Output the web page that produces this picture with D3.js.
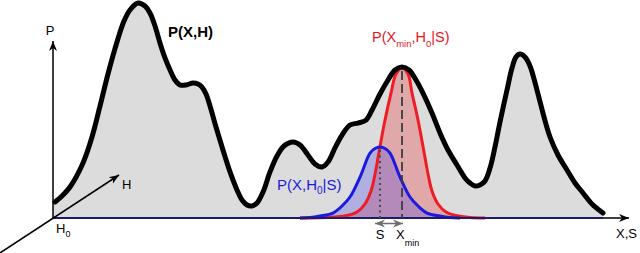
<!DOCTYPE html>
<html><head><meta charset="utf-8">
<script src="https://cdn.jsdelivr.net/npm/d3@7/dist/d3.min.js"></script>
<style>html,body{margin:0;padding:0;background:#fff;}svg{display:block;}</style>
</head><body><svg id="c" width="640" height="253"></svg>
<script>
// Landscape P(X,H): x in [0,100] along X,S axis, y in relative units (red peak = 100)
const landX = [0.35,1.56,2.95,5.2,6.76,8.15,9.53,11.09,12.31,13.34,14.73,15.94,16.81,17.68,18.54,19.41,20.28,21.14,22.01,23.05,24.26,25.13,25.82,26.52,27.21,28.25,29.46,30.68,31.89,32.76,33.62,34.49,35.36,36.4,37.61,38.82,40.03,41.59,42.81,44.19,45.41,46.62,47.66,48.87,50.09,51.47,52.86,54.25,55.29,56.67,58.06,59.27,60.49,61.7,62.91,64.12,65.68,67.07,68.46,70.02,71.4,72.27,73.14,74.0,74.87,75.74,76.6,77.47,78.68,79.55,80.24,80.94,81.8,82.67,83.88,85.1,86.14,87.52,89.08,90.47,91.85,93.41,95.32];
const landY = [10.7,14.7,20.7,36.7,54,74.7,96,117.3,131.3,138.7,143.3,141.3,136.7,128,116.7,106.7,98.7,92,88.7,88.7,90,89.3,87.3,82.7,74.7,60.7,45.3,30.7,18.7,12,8.7,8,10,17.3,30.7,41.3,48,50.7,48.7,42,36,34,37.3,46.7,55.3,62,63.3,65.3,72,82.7,92,98.7,100.7,98.7,92,83.3,70,56.7,45.3,35.3,26.7,23.3,21.3,22,24.7,33.3,47.3,64,85.3,100,107.3,109.3,107.3,101.3,85.3,67.3,54,42,32,23.3,16.7,9.3,3.3];
// P(Xmin,H0|S) (red)
const redX = [42.81,46.27,48.87,50.95,52.69,54.07,55.11,55.81,56.5,57.54,58.58,59.45,60.49,61.53,62.22,63.26,64.3,65.0,65.68,66.72,68.11,69.84,72.27,74.87];
const redY = [0,0.13,0.67,1.67,4,9.33,18,29.3,44,65.3,83.3,96,100,96,83.3,65.3,44,29.3,18,9.33,4,1.67,0.4,0];
// P(X,H0|S) (blue)
const blueX = [42.81,44.54,46.27,48.53,50.09,51.47,53.21,54.94,55.81,56.67,57.54,58.41,60.14,61.87,63.26,64.82,67.07,68.8,70.54];
const blueY = [0,0.3,1.3,3.3,8,14,27.3,43.3,46.3,47.3,46.3,43.3,27.3,14,8,3.3,1.3,0.3,0];
const labels = {P:"P", H:"H", H0:["H","0"], XS:"X,S", S:"S", Xmin:["X","min"], land:"P(X,H)"};

const svg = d3.select("#c");
const x = d3.scaleLinear().domain([0,100]).range([53,630]);
const y = d3.scaleLinear().domain([0,100]).range([218,68]);
const zip = (a,b)=>a.map((v,i)=>[v,b[i]]);
const land = zip(landX,landY), red = zip(redX,redY), blue = zip(blueX,blueY);

const defs = svg.append("defs");
function marker(id,color){
  defs.append("marker").attr("id",id).attr("viewBox","-10 -5 11 10").attr("refX",0).attr("refY",0)
   .attr("markerWidth",11).attr("markerHeight",10).attr("markerUnits","userSpaceOnUse").attr("orient","auto-start-reverse")
   .append("path").attr("d","M0,0 L-10,-4 L-7,0 L-10,4 Z").attr("fill",color);
}
marker("ab","#000"); marker("ag","#6e6e6e");

const crv = d3.curveCatmullRom.alpha(0.5);
const area = d3.area().x(d=>x(d[0])).y0(y(0)).y1(d=>y(d[1])).curve(crv);
const line = d3.line().x(d=>x(d[0])).y(d=>y(d[1])).curve(crv);

// gray landscape fill
svg.append("path").datum([[0,landY[0]],...land]).attr("d",area).attr("fill","#dcdcdc");
// red & blue fills
svg.append("path").datum(red).attr("d",area).attr("fill","rgba(232,60,60,0.32)");
svg.append("path").datum(blue).attr("d",area).attr("fill","rgba(60,60,235,0.27)");

// curves
svg.append("path").datum(red).attr("d",line).attr("fill","none").attr("stroke","#ee1c24").attr("stroke-width",3);
svg.append("path").datum(blue).attr("d",line).attr("fill","none").attr("stroke","#1a1ae0").attr("stroke-width",3);
svg.append("path").datum(land).attr("d",line).attr("fill","none").attr("stroke","#000").attr("stroke-width",5)
  .attr("stroke-linecap","round").attr("stroke-linejoin","round");

// axes
const x0 = x(0), yb = y(0);
svg.append("line").attr("x1",x0).attr("y1",yb).attr("x2",x(100)-1).attr("y2",yb)
  .attr("stroke","#000").attr("stroke-width",1.5).attr("marker-end","url(#ab)");
svg.append("line").attr("x1",x0).attr("y1",yb).attr("x2",x(landX[landX.length-1])).attr("y2",yb)
  .attr("stroke","#1c1c6e").attr("stroke-width",2.2);
svg.append("line").attr("x1",x0).attr("y1",yb).attr("x2",x0).attr("y2",41)
  .attr("stroke","#000").attr("stroke-width",1.5).attr("marker-end","url(#ab)");
svg.append("line").attr("x1",0).attr("y1",253).attr("x2",119).attr("y2",175)
  .attr("stroke","#000").attr("stroke-width",1.5).attr("marker-end","url(#ab)");

// guide lines at peaks
const ri = d3.maxIndex(redY), bi = d3.maxIndex(blueY);
svg.append("line").attr("x1",x(redX[ri])).attr("x2",x(redX[ri])).attr("y1",y(redY[ri])+3).attr("y2",yb)
  .attr("stroke","#3c3c3c").attr("stroke-width",1.8).attr("stroke-dasharray","9,4");
svg.append("line").attr("x1",x(blueX[bi])).attr("x2",x(blueX[bi])).attr("y1",y(blueY[bi])+3).attr("y2",yb)
  .attr("stroke","#4a4a4a").attr("stroke-width",2).attr("stroke-dasharray","2,3.5");
// S <-> Xmin arrow
svg.append("line").attr("x1",x(blueX[bi])-5).attr("x2",x(redX[ri])+1).attr("y1",223.5).attr("y2",223.5)
  .attr("stroke","#6e6e6e").attr("stroke-width",1.5).attr("marker-start","url(#ag)").attr("marker-end","url(#ag)");

// text
const ff = "'Liberation Sans', Arial, sans-serif";
function txt(xp,yp,size,color,anchor){return svg.append("text").attr("x",xp).attr("y",yp).attr("font-family",ff)
  .attr("font-size",size).attr("fill",color).attr("text-anchor",anchor||"start");}
txt(50,35,13,"#000","middle").text(labels.P);
txt(122,189,13,"#000").text(labels.H);
const th0 = txt(56,233,13,"#000"); th0.append("tspan").text(labels.H0[0]);
th0.append("tspan").attr("font-size",9).attr("dy",4).text(labels.H0[1]);
txt(616,238,13,"#000").text(labels.XS);
txt(x(blueX[bi]),239,13,"#000","middle").text(labels.S);
const tx = txt(396,239,13,"#000"); tx.append("tspan").text(labels.Xmin[0]);
tx.append("tspan").attr("font-size",9).attr("dy",7).text(labels.Xmin[1]);
txt(168,37,15,"#000").attr("font-weight","bold").text(labels.land);

const tr = txt(372,42,14.5,"#e8141c");
tr.append("tspan").text("P(X");
tr.append("tspan").attr("font-size",9.5).attr("dy",5).text("min");
tr.append("tspan").attr("dy",-5).text(",H");
tr.append("tspan").attr("font-size",9.5).attr("dy",5).text("0");
tr.append("tspan").attr("dy",-5).text("|S)");

const tb = txt(277,190,15,"#1a1ad8");
tb.append("tspan").text("P(X,H");
tb.append("tspan").attr("font-size",10).attr("dy",4).text("0");
tb.append("tspan").attr("dy",-4).text("|S)");
</script></body></html>
